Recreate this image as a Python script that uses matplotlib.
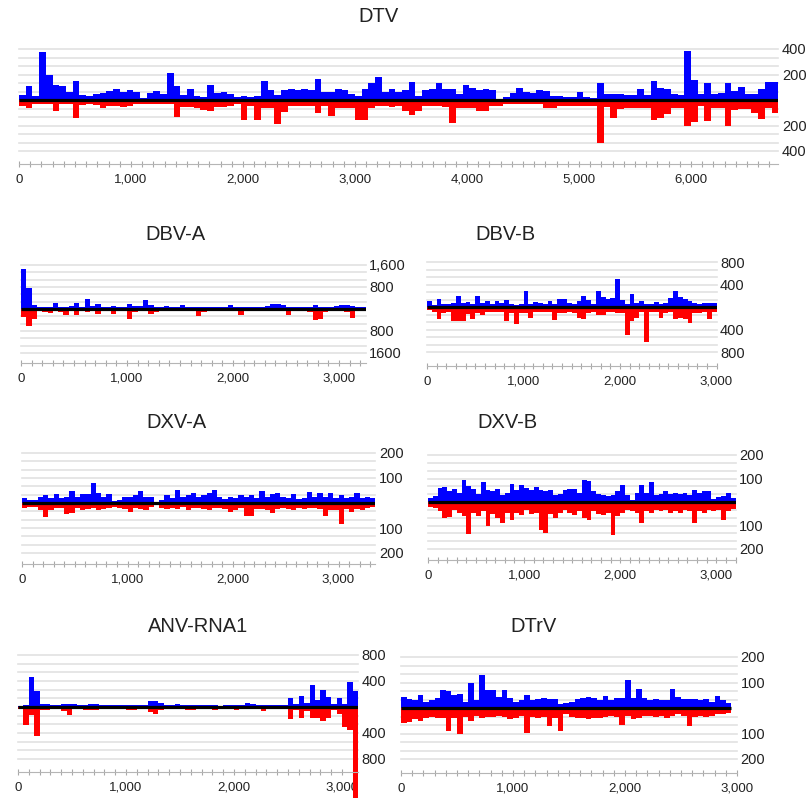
#!/usr/bin/env python3
"""Strand-specific small RNA coverage along seven viral genomes."""

from __future__ import annotations

import matplotlib

matplotlib.use("Agg")
import matplotlib.pyplot as plt
import numpy as np
from matplotlib.ticker import FuncFormatter, MultipleLocator

plt.rcParams["font.family"] = ["Liberation Sans", "DejaVu Sans"]

FIG_W, FIG_H = 808, 800

# coverage per bin (reads); positive strand / negative strand
DTV_BIN = 60
DTV_POS = [
    40, 110, 30, 377, 200, 117, 110, 65, 150, 40,
    35, 50, 55, 70, 90, 60, 75, 60, 15, 55,
    70, 50, 210, 110, 40, 90, 30, 25, 115, 55,
    60, 45, 25, 30, 25, 35, 150, 80, 40, 80,
    85, 75, 90, 80, 165, 65, 60, 90, 80, 50,
    35, 90, 130, 180, 65, 85, 60, 75, 140, 35,
    80, 85, 130, 90, 85, 45, 115, 95, 75, 85,
    80, 10, 20, 55, 95, 60, 55, 75, 70, 35,
    30, 20, 20, 60, 20, 15, 130, 45, 50, 45,
    40, 40, 90, 40, 150, 95, 90, 45, 40, 385,
    156, 45, 130, 50, 55, 130, 70, 100, 45, 50,
    90, 145, 140,
]
DTV_NEG = [
    45, 60, 30, 30, 35, 85, 30, 30, 140, 40,
    35, 40, 60, 50, 50, 55, 45, 35, 30, 30,
    30, 35, 30, 135, 55, 55, 60, 75, 85, 55,
    55, 50, 30, 160, 50, 160, 65, 65, 185, 95,
    45, 45, 45, 45, 100, 45, 125, 65, 65, 65,
    160, 160, 60, 50, 50, 55, 50, 90, 115, 90,
    50, 50, 50, 55, 182, 60, 60, 60, 90, 90,
    45, 45, 30, 30, 30, 30, 30, 35, 65, 60,
    45, 45, 45, 45, 45, 45, 338, 55, 143, 70,
    65, 65, 60, 65, 156, 140, 110, 65, 60, 203,
    170, 50, 165, 65, 65, 203, 80, 70, 70, 105,
    150, 65, 100,
]

DBVA_BIN = 50
DBVA_POS = [
    1440, 750, 150, 60, 70, 90, 230, 90, 80, 100,
    230, 80, 360, 120, 200, 90, 80, 110, 90, 80,
    180, 100, 110, 330, 150, 90, 90, 100, 80, 90,
    140, 80, 60, 70, 90, 80, 70, 90, 90, 140,
    70, 90, 80, 70, 60, 80, 100, 200, 200, 150,
    90, 80, 70, 80, 90, 140, 70, 60, 60, 110,
    130, 130, 120, 60, 60,
]
DBVA_NEG = [
    300, 600, 350, 80, 110, 150, 90, 100, 220, 90,
    210, 90, 100, 90, 180, 80, 80, 190, 80, 80,
    380, 110, 90, 90, 180, 100, 90, 80, 70, 80,
    90, 80, 90, 260, 120, 90, 80, 70, 70, 90,
    90, 220, 80, 70, 90, 80, 70, 80, 90, 80,
    200, 90, 80, 90, 100, 390, 380, 110, 90, 80,
    90, 120, 330, 90, 80,
]

DBVB_BIN = 50
DBVB_POS = [
    100, 40, 150, 50, 60, 80, 190, 70, 90, 60,
    190, 80, 100, 60, 100, 80, 120, 50, 40, 50,
    280, 60, 90, 70, 50, 110, 50, 140, 140, 80,
    60, 100, 200, 120, 50, 280, 170, 140, 160, 500,
    120, 60, 240, 70, 100, 50, 60, 90, 60, 70,
    160, 290, 180, 140, 100, 80, 60, 80, 80, 70,
]
DBVB_NEG = [
    60, 90, 210, 100, 90, 250, 250, 240, 120, 220,
    110, 150, 90, 80, 90, 90, 250, 110, 300, 100,
    110, 200, 90, 80, 80, 90, 230, 100, 100, 90,
    110, 200, 220, 110, 90, 140, 150, 90, 80, 110,
    100, 490, 250, 200, 90, 630, 80, 90, 190, 100,
    90, 220, 200, 210, 280, 100, 110, 90, 220, 90,
]

DXVA_BIN = 50
DXVA_POS = [
    20, 12, 10, 22, 30, 20, 35, 18, 22, 47,
    25, 35, 35, 80, 40, 25, 35, 8, 12, 25,
    25, 30, 47, 25, 25, 5, 10, 30, 20, 50,
    25, 30, 40, 25, 30, 40, 53, 25, 15, 25,
    20, 30, 25, 30, 20, 48, 25, 35, 40, 25,
    20, 35, 15, 20, 45, 25, 40, 25, 40, 20,
    30, 20, 25, 38, 20, 25, 20,
]
DXVA_NEG = [
    20, 18, 15, 30, 55, 30, 20, 22, 45, 40,
    22, 30, 25, 22, 30, 25, 22, 18, 20, 25,
    35, 20, 25, 30, 18, 8, 20, 25, 22, 25,
    18, 30, 20, 22, 25, 30, 20, 22, 25, 35,
    30, 22, 53, 53, 25, 25, 30, 40, 25, 20,
    25, 30, 22, 25, 20, 22, 25, 53, 30, 30,
    85, 25, 35, 25, 30, 20, 15,
]

DXVB_BIN = 50
DXVB_POS = [
    15, 25, 60, 64, 45, 55, 40, 92, 70, 55,
    35, 84, 50, 45, 55, 30, 40, 78, 50, 74,
    60, 50, 65, 50, 45, 52, 30, 35, 50, 55,
    55, 40, 92, 88, 45, 35, 30, 25, 30, 45,
    74, 30, 10, 40, 74, 40, 84, 30, 35, 45,
    35, 40, 35, 40, 30, 50, 40, 45, 48, 12,
    20, 25, 40, 18,
]
DXVB_NEG = [
    20, 25, 40, 68, 65, 35, 45, 60, 135, 45,
    60, 40, 100, 50, 68, 90, 45, 75, 45, 55,
    35, 50, 45, 118, 132, 50, 70, 45, 35, 45,
    55, 40, 70, 75, 40, 50, 55, 45, 140, 60,
    45, 35, 40, 45, 90, 40, 45, 35, 40, 35,
    45, 40, 45, 35, 40, 90, 40, 45, 35, 40,
    35, 75, 40, 30,
]

ANV_BIN = 50
ANV_POS = [
    20, 25, 455, 250, 50, 45, 30, 25, 45, 45,
    40, 25, 30, 50, 50, 25, 30, 25, 30, 25,
    35, 25, 30, 30, 100, 95, 60, 30, 25, 40,
    25, 25, 30, 35, 25, 30, 25, 20, 30, 30,
    35, 25, 60, 40, 35, 30, 35, 30, 35, 30,
    140, 45, 165, 60, 340, 110, 255, 160, 45, 140,
    40, 377, 240,
]
ANV_NEG = [
    25, 270, 120, 450, 40, 50, 35, 30, 60, 120,
    35, 30, 40, 45, 40, 30, 30, 25, 30, 25,
    45, 45, 30, 25, 70, 100, 40, 30, 30, 25,
    30, 40, 40, 30, 25, 30, 40, 25, 30, 35,
    50, 30, 25, 30, 30, 60, 30, 25, 30, 30,
    185, 40, 170, 60, 170, 170, 220, 170, 45, 100,
    300, 350, 1400,
]

DTRV_BIN = 50
DTRV_POS = [
    45, 35, 30, 52, 25, 30, 40, 70, 65, 50,
    56, 25, 98, 30, 130, 70, 70, 45, 72, 40,
    25, 30, 50, 30, 35, 40, 35, 35, 15, 20,
    25, 35, 40, 45, 40, 30, 48, 30, 40, 40,
    111, 40, 75, 40, 30, 35, 30, 30, 75, 45,
    35, 35, 35, 30, 35, 25, 48, 30, 20,
]
DTRV_NEG = [
    60, 55, 45, 50, 40, 35, 40, 40, 92, 40,
    100, 35, 52, 30, 40, 35, 35, 30, 35, 45,
    40, 30, 98, 35, 40, 35, 72, 40, 92, 25,
    35, 40, 40, 45, 40, 40, 35, 30, 35, 65,
    30, 45, 40, 30, 30, 35, 30, 40, 30, 25,
    30, 72, 35, 30, 35, 30, 25, 25, 20,
]

# right-hand scale: tick values and the labels printed next to them
DTV_YTICKS, DTV_YLABELS = [400, 200, -200, -400], ["400", "200", "200", "400"]
DBVA_YTICKS, DBVA_YLABELS = [1600, 800, -800, -1600], ["1,600", "800", "800", "1600"]
DBVB_YTICKS, DBVB_YLABELS = [800, 400, -400, -800], ["800", "400", "400", "800"]
DXVA_YTICKS, DXVA_YLABELS = [200, 100, -100, -200], ["200", "100", "100", "200"]
DXVB_YTICKS, DXVB_YLABELS = [200, 100, -100, -200], ["200", "100", "100", "200"]
ANV_YTICKS, ANV_YLABELS = [800, 400, -400, -800], ["800", "400", "400", "800"]
DTRV_YTICKS, DTRV_YLABELS = [200, 100, -100, -200], ["200", "100", "100", "200"]

# layout in pixels: x of genome position 0, px per 1000 nt, top gridline, zero line, x axis
PANELS = [
    dict(name="DTV", pos=DTV_POS, neg=DTV_NEG, step=DTV_BIN, yticks=DTV_YTICKS,
         ylabels=DTV_YLABELS, left=19, px_kb=112, top=49, zero=100, axis=164,
         xlim=None, title=(378, 17)),
    dict(name="DBV-A", pos=DBVA_POS, neg=DBVA_NEG, step=DBVA_BIN, yticks=DBVA_YTICKS,
         ylabels=DBVA_YLABELS, left=21, px_kb=106, top=265, zero=309, axis=363,
         xlim=None, title=(175, 235)),
    dict(name="DBV-B", pos=DBVB_POS, neg=DBVB_NEG, step=DBVB_BIN, yticks=DBVB_YTICKS,
         ylabels=DBVB_YLABELS, left=427, px_kb=96.5, top=262, zero=307, axis=366,
         xlim=None, title=(505, 235)),
    dict(name="DXV-A", pos=DXVA_POS, neg=DXVA_NEG, step=DXVA_BIN, yticks=DXVA_YTICKS,
         ylabels=DXVA_YLABELS, left=22, px_kb=105.5, top=453, zero=503, axis=564,
         xlim=None, title=(176, 422)),
    dict(name="DXV-B", pos=DXVB_POS, neg=DXVB_NEG, step=DXVB_BIN, yticks=DXVB_YTICKS,
         ylabels=DXVB_YLABELS, left=428, px_kb=96.1, top=455, zero=502, axis=560,
         xlim=None, title=(507, 422)),
    dict(name="ANV-RNA1", pos=ANV_POS, neg=ANV_NEG, step=ANV_BIN, yticks=ANV_YTICKS,
         ylabels=ANV_YLABELS, left=18, px_kb=108, top=655, zero=707, axis=772,
         xlim=None, title=(198, 626)),
    dict(name="DTrV", pos=DTRV_POS, neg=DTRV_NEG, step=DTRV_BIN, yticks=DTRV_YTICKS,
         ylabels=DTRV_YLABELS, left=401, px_kb=112, top=657, zero=708, axis=773,
         xlim=3000, title=(533, 626)),
]


def _draw_panel(fig: plt.Figure, p: dict) -> None:
    pos = np.asarray(p["pos"], dtype=float)
    neg = np.asarray(p["neg"], dtype=float)
    edges = np.arange(len(pos) + 1) * p["step"]
    xmax = p["xlim"] or edges[-1]
    right = p["left"] + xmax * p["px_kb"] / 1000

    rect = [
        p["left"] / FIG_W,
        1 - p["axis"] / FIG_H,
        (right - p["left"]) / FIG_W,
        (p["axis"] - p["top"]) / FIG_H,
    ]
    ax = fig.add_axes(rect)
    half = max(p["yticks"])
    ymin = -half * (p["axis"] - p["zero"]) / (p["zero"] - p["top"])
    ax.set_xlim(0, xmax)
    ax.set_ylim(ymin, half)

    for k in range(1, 7):
        for sign in (1, -1):
            ax.axhline(sign * half * k / 6, color="#e2e2e2", linewidth=1.2, zorder=0,
                       clip_on=False)

    ax.stairs(pos, edges, baseline=0, fill=True, color="#0000ff", linewidth=0, zorder=2)
    ax.stairs(-neg, edges, baseline=0, fill=True, color="#ff0000", linewidth=0,
              zorder=2, clip_on=False)
    ax.plot([0, edges[-1]], [0, 0], color="black", linewidth=2.3, zorder=3,
            solid_capstyle="butt")

    for side in ("left", "right", "top"):
        ax.spines[side].set_visible(False)
    ax.spines["bottom"].set_color("#b5b5b5")
    ax.spines["bottom"].set_linewidth(0.8)

    ax.xaxis.set_major_locator(MultipleLocator(1000))
    ax.xaxis.set_minor_locator(MultipleLocator(100))
    ax.xaxis.set_major_formatter(FuncFormatter(lambda v, _: f"{v:,.0f}"))
    ax.tick_params(axis="x", which="both", direction="inout", length=4, width=0.8,
                   color="#a8a8a8")
    ax.tick_params(axis="x", which="major", labelsize=9.5, pad=5, labelcolor="#222222")

    ax.yaxis.tick_right()
    ax.set_yticks(p["yticks"])
    ax.set_yticklabels(p["ylabels"])
    ax.tick_params(axis="y", length=0, pad=2.5, labelsize=10.5, labelcolor="#222222")

    tx, ty = p["title"]
    fig.text(tx / FIG_W, 1 - ty / FIG_H, p["name"], ha="center", va="center",
             fontsize=14.5, color="#222222")


def main() -> None:
    fig = plt.figure(figsize=(FIG_W / 100, FIG_H / 100), dpi=100)
    fig.patch.set_facecolor("white")
    for panel in PANELS:
        _draw_panel(fig, panel)
    fig.savefig("out.png", dpi=100)
    plt.close(fig)


if __name__ == "__main__":
    main()
